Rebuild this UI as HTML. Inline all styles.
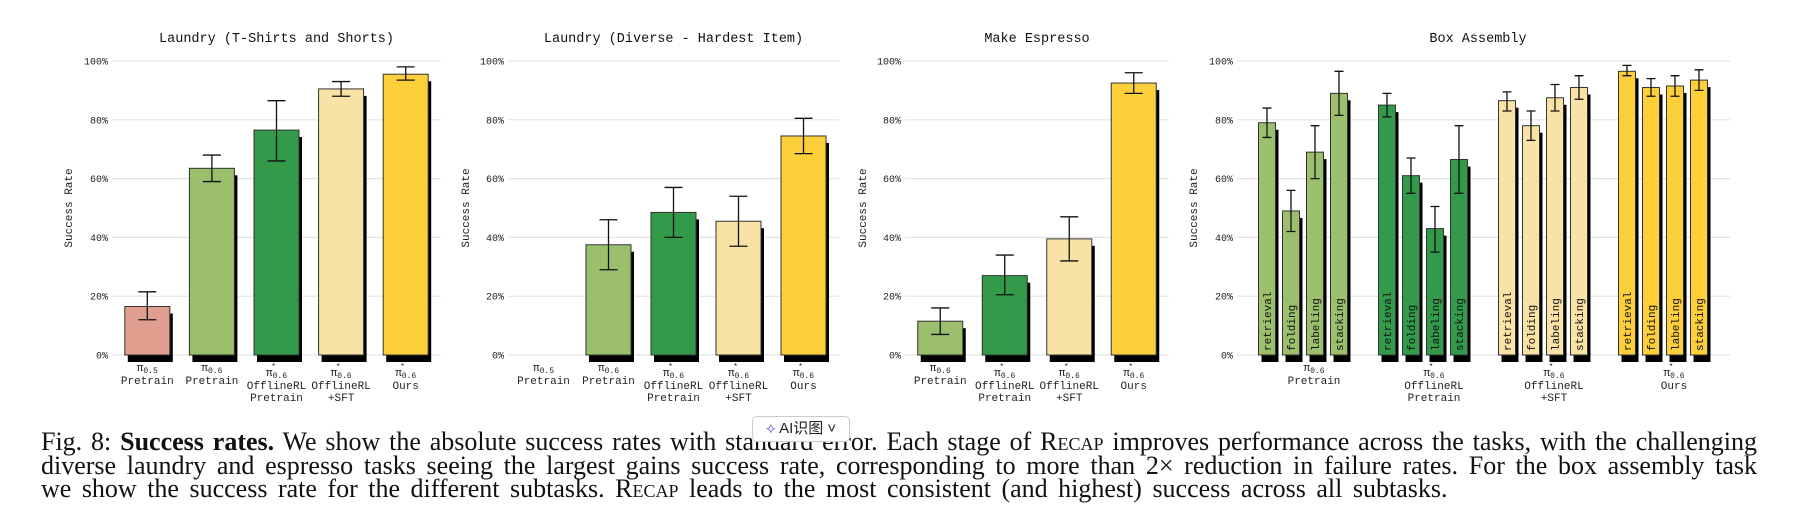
<!DOCTYPE html>
<html><head><meta charset="utf-8"><style>
body{margin:0;background:#fff;width:1800px;height:525px;overflow:hidden;position:relative;font-family:"Liberation Mono",monospace}
#cap{position:absolute;left:41px;top:430px;width:1716px;font-family:"Liberation Serif",serif;font-size:26px;line-height:23.5px;color:#111}
#cap .ln{display:block;text-align:justify;text-align-last:justify;white-space:nowrap}
#cap .ln.last{text-align-last:left;word-spacing:4px}
.sc{font-variant:small-caps}
#ai{position:absolute;left:752px;top:416px;width:96px;height:24px;border:1px solid #ccc;border-radius:5px;background:#fff;font-family:"Liberation Sans","Noto Sans CJK SC",sans-serif;font-size:15px;line-height:24px;text-align:center;color:#222}
</style></head><body>
<svg id="chart" width="1800" height="420" style="position:absolute;left:0;top:0"></svg>
<div id="cap"><span class="ln">Fig. 8: <b>Success rates.</b> We show the absolute success rates with standard error. Each stage of <span class="sc">Recap</span> improves performance across the tasks, with the challenging</span><span class="ln">diverse laundry and espresso tasks seeing the largest gains success rate, corresponding to more than 2× reduction in failure rates. For the box assembly task</span><span class="ln last">we show the success rate for the different subtasks. <span class="sc">Recap</span> leads to the most consistent (and highest) success across all subtasks.</span></div>
<div id="ai"><span style="color:#7b5cf0">⟡</span> AI识图 ˅</div>
<script>
const c1Vals=[16.5,63.5,76.5,90.5,95.5];
const c1Lo=[12,59,66,88,93.5];
const c1Hi=[21.5,68,86.5,93,98];
const c2Vals=[0,37.5,48.5,45.5,74.5];
const c2Lo=[0,29,40,37,68.5];
const c2Hi=[0,46,57,54,80.5];
const c3Vals=[11.5,27,39.5,92.5];
const c3Lo=[7,20.5,32,89];
const c3Hi=[16,34,47,96];
const c4Tasks=["retrieval","folding","labeling","stacking"];
const c4Vals=[[79,49,69,89],[85,61,43,66.5],[86.5,78,87.5,91],[96.5,91,91.5,93.5]];
const c4Lo=[[74,42,60,81.5],[81,55,35,55],[83,73,83,87],[95,88,88,90]];
const c4Hi=[[84,56,78,96.5],[89,67,50.5,78],[89.5,83,92,95],[98.5,94,95,97]];
const yTicks=[0,20,40,60,80,100];
const cats5=[["π","0.5","","Pretrain"],["π","0.6","","Pretrain"],["π","0.6","*","OfflineRL","Pretrain"],["π","0.6","*","OfflineRL","+SFT"],["π","0.6","*","Ours"]];
const cats3=[["π","0.6","","Pretrain"],["π","0.6","*","OfflineRL","Pretrain"],["π","0.6","*","OfflineRL","+SFT"],["π","0.6","*","Ours"]];
const colors5=["#e09e8e","#9cbf6e","#339a4a","#f8e2a6","#fdd03b"];
const colors4=["#9cbf6e","#339a4a","#f8e2a6","#fdd03b"];

const svg=document.getElementById('chart');
const NS="http://www.w3.org/2000/svg";
function mk(t,a,parent){const e=document.createElementNS(NS,t);for(const k in a)e.setAttribute(k,a[k]);(parent||svg).appendChild(e);return e;}
const Y0=355,Y100=61;
function yS(v){return Y0-(Y0-Y100)*v/100;}

function axes(x0,x1,title,tx,lx){
  const g=mk('g',{});
  
  
  yTicks.forEach(t=>{
    const l=mk('line',{x1:x0,x2:x1,y1:yS(t),y2:yS(t),stroke:'#e4e4e4','stroke-width':1.2},g);
    
    
    const tt=mk('text',{x:x0-4,y:yS(t)+3.5,'text-anchor':'end','font-size':10,fill:'#222'},g);
    tt.textContent=t+'%';
    
    
  });
  const ti=mk('text',{x:tx,y:42,'text-anchor':'middle','font-size':13.5,fill:'#111'},g);
  ti.textContent=title;
  
  
  const yl=mk('text',{x:lx,y:208,'text-anchor':'middle','font-size':11,fill:'#222',transform:`rotate(-90 ${lx} 208)`},g);
  yl.textContent='Success Rate';
  
  
  return g;
}
function bar(g,cx,w,v,lo,hi,col,cap){
  const top=yS(v);
  const sh=mk('rect',{x:cx-w/2+3,y:top+7,width:w,height:Y0-top,fill:'#000'},g);
  
  
  const r=mk('rect',{x:cx-w/2,y:top,width:w,height:Y0-top,fill:col,stroke:'#333','stroke-width':1},g);
  
  
  if(hi>lo){
    const e=mk('path',{d:`M${cx},${yS(hi)}V${yS(lo)}M${cx-cap},${yS(hi)}h${2*cap}M${cx-cap},${yS(lo)}h${2*cap}`,stroke:'#111','stroke-width':1.3,fill:'none'},g);
    
    
  }
}
function catLabel(g,cx,lab,y){
  const t=mk('text',{x:cx,'text-anchor':'middle','font-size':11,fill:'#222'},g);
  
  
  let yy=y+(lab[2]?5:0);
  const s1=mk('tspan',{x:cx,y:yy},t);s1.textContent=lab[0];
  const s2=mk('tspan',{dy:2,'font-size':8},t);s2.textContent=lab[1];
  if(lab[2]){const s3=mk('tspan',{x:cx-3,y:yy-7,'font-size':8},t);s3.textContent=lab[2];}
  for(let i=3;i<lab.length;i++){const s=mk('tspan',{x:cx,y:yy+12*(i-2)+1},t);s.textContent=lab[i];}
}
function simple(x0,x1,vals,lo,hi,cats,cols,title,lx){
  const g=axes(x0,x1,title,(x0+x1)/2,lx);
  const n=vals.length,band=(x1-x0-6)/n;
  vals.forEach((v,i)=>{
    const cx=x0+3+band*(i+0.5);
    bar(g,cx,45,v,lo[i],hi[i],cols[i],9);
    catLabel(g,cx,cats[i],371);
  });
}
simple(112,441,c1Vals,c1Lo,c1Hi,cats5,colors5,'Laundry (T-Shirts and Shorts)',72);
simple(508,839,c2Vals,c2Lo,c2Hi,cats5,colors5,'Laundry (Diverse - Hardest Item)',469);
simple(905,1169,c3Vals,c3Lo,c3Hi,cats3,colors4,'Make Espresso',866);

(function(){
  const g=axes(1237,1730,'Box Assembly',1478,1197);
  const gx0=1267,gs=120,bs=24;
  c4Vals.forEach((grp,gi)=>{
    grp.forEach((v,i)=>{
      const cx=gx0+gi*gs+i*bs;
      bar(g,cx,17,v,c4Lo[gi][i],c4Hi[gi][i],colors4[gi],4.5);
      const t=mk('text',{x:cx+4,y:Y0-4,'font-size':11,fill:'#111',transform:`rotate(-90 ${cx+4} ${Y0-4})`},g);
      t.textContent=c4Tasks[i];
      
      
    });
    catLabel(g,gx0+gi*gs+47,cats3[gi],371);
  });
})();
</script>
</body></html>
